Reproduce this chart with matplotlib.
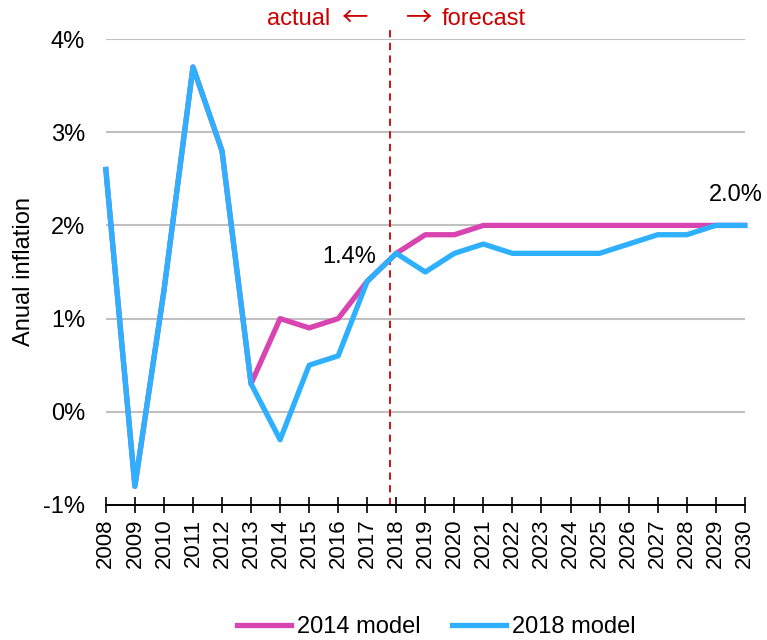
import numpy as np
import matplotlib.pyplot as plt
from matplotlib.ticker import FuncFormatter

plt.rcParams['font.family'] = ['Liberation Sans', 'DejaVu Sans']

# yıllar ve enflasyon serileri (%)
years = list(range(2008, 2031))
model_2014 = [2.6, -0.8, 1.3, 3.7, 2.8, 0.3, 1.0, 0.9, 1.0, 1.4, 1.7, 1.9,
              1.9, 2.0, 2.0, 2.0, 2.0, 2.0, 2.0, 2.0, 2.0, 2.0, 2.0]
model_2018 = [2.6, -0.8, 1.3, 3.7, 2.8, 0.3, -0.3, 0.5, 0.6, 1.4, 1.7, 1.5,
              1.7, 1.8, 1.7, 1.7, 1.7, 1.7, 1.8, 1.9, 1.9, 2.0, 2.0]
y_ticks = [-1, 0, 1, 2, 3, 4]
split_year = 2017.8

fig = plt.figure(figsize=(7.67, 6.40), dpi=100)
ax = fig.add_axes([0.138, 0.211, 0.833, 0.728])

ax.plot(years, model_2014, color='#d844b0', lw=3.8, label='2014 model', clip_on=False)
ax.plot(years, model_2018, color='#2eb0ff', lw=3.8, label='2018 model', clip_on=False)

ax.set_xlim(2008, 2030)
ax.set_ylim(-1, 4)
ax.set_yticks(y_ticks)
ax.yaxis.set_major_formatter(FuncFormatter(lambda v, p: f'{v:.0f}%'))
ax.set_xticks(years)
ax.set_xticklabels([str(y) for y in years], rotation=90, fontsize=16)
ax.tick_params(axis='y', length=0, labelsize=17, pad=15)
ax.tick_params(axis='x', direction='inout', length=11.5, width=1.2, pad=4)
ax.grid(axis='y', color='#c0c0c0', lw=1.5)
ax.set_axisbelow(True)
for s in ['top', 'right', 'left']:
    ax.spines[s].set_visible(False)
ax.spines['bottom'].set_linewidth(1.4)

ax.set_ylabel('Anual inflation', fontsize=17, labelpad=6)

# tahmin ayrımı
red = '#cc0000'
ax.axvline(split_year, ymin=0, ymax=1.03, color=red, lw=1.3,
           ls=(0, (4, 3)), clip_on=False, zorder=1)
ax.text(split_year - 2.09, 4.22, 'actual', color=red, fontsize=17,
        ha='right', va='center')
ax.text(split_year - 1.23, 4.22, '←', color=red, fontsize=19,
        family=['Noto Sans CJK JP', 'DejaVu Sans'], ha='center', va='center')
ax.text(split_year + 0.99, 4.22, '→', color=red, fontsize=19,
        family=['Noto Sans CJK JP', 'DejaVu Sans'], ha='center', va='center')
ax.text(split_year + 1.76, 4.22, 'forecast', color=red, fontsize=17,
        ha='left', va='center')

ax.text(2017.3, 1.66, '1.4%', fontsize=17, ha='right', va='center')
ax.text(2029.7, 2.33, '2.0%', fontsize=17, ha='center', va='center')

ax.legend(loc='center', bbox_to_anchor=(0.517, -0.262), ncol=2, frameon=False,
          fontsize=17, handlelength=2.3, handletextpad=0.25, columnspacing=1.3)

plt.savefig('out.png', dpi=100)
plt.close()
